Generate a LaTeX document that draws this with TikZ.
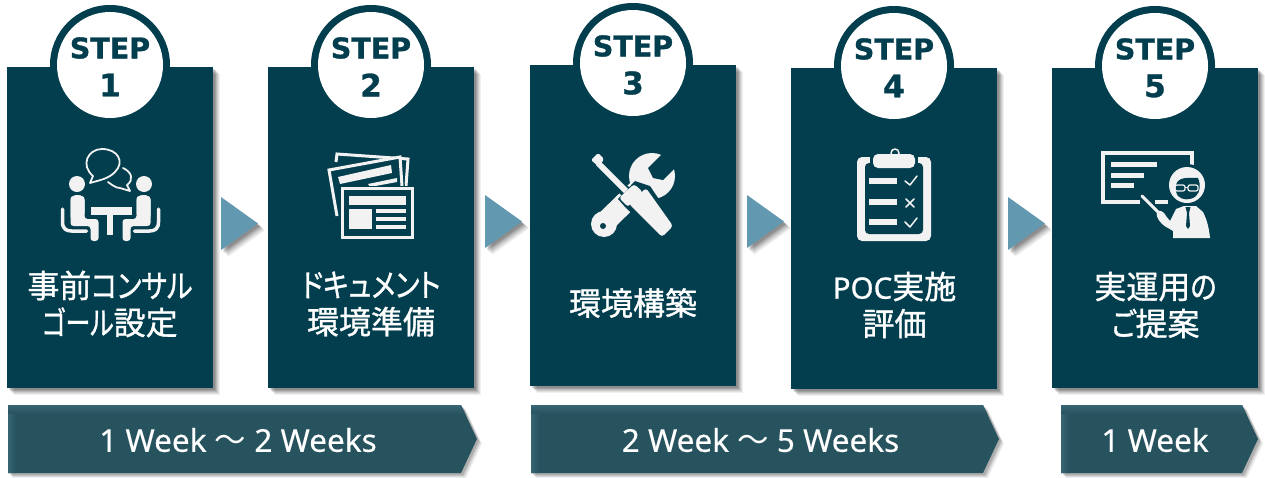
\documentclass[tikz,border=0pt]{standalone}
\usepackage{fontspec}
\setmainfont{Noto Sans}[FakeBold=0.35]
\newfontfamily\jpfont[FakeBold=1]{Noto Sans CJK JP}
\newfontfamily\kanafont[RawFeature={+palt},FakeBold=1,FakeStretch=0.85]{Noto Sans CJK JP}
\newfontfamily\kanatight[RawFeature={+palt},FakeBold=1,FakeStretch=0.78]{Noto Sans CJK JP}
\newfontfamily\latinbold[FakeBold=0.8]{Noto Sans}
\newfontfamily\wavefont{Noto Sans CJK JP}
\newfontfamily\stepfont[FakeBold=1]{DejaVu Sans Bold}
\usetikzlibrary{calc}
\definecolor{cardblue}{HTML}{023E4E}
\definecolor{arrowblue}{HTML}{6399B0}
\definecolor{barblue}{HTML}{27535F}
\definecolor{barlight}{HTML}{376571}
\definecolor{iconwhite}{HTML}{F2F2F2}
\tikzset{
  x=1pt,y=-1pt,
  cardfill/.style={fill=cardblue},
  ringfill/.style={fill=cardblue},
  holefill/.style={fill=white},
  triangleshape/.style={fill=arrowblue},
  stepword/.style={font=\stepfont\fontsize{28.5}{29}\selectfont,text=cardblue,inner sep=0pt},
  cardtext/.style={font=\jpfont\fontsize{32}{37}\selectfont,text=white,align=center,inner sep=0pt},
  bartext/.style={font=\fontsize{31.5}{32}\selectfont,text=white,inner sep=0pt},
  ic/.style={fill=iconwhite,draw=none},
  il/.style={draw=iconwhite,line cap=round,line join=round},
  ild/.style={draw=iconwhite,line cap=butt,line join=miter},
}
\newcommand{\softshadow}[1]{%
  \foreach \d/\op in {7/.06,6/.07,5/.08,4/.10,3/.12,2/.12}{%
    \begin{scope}[shift={(\d,\d)}]
      \fill[black,opacity=\op] #1;
    \end{scope}}%
}
\newcommand{\stepcard}[7]{% name, left, top, right, bottom, circle x, circle y
  \softshadow{(#2,#3) rectangle (#4,#5)}
  \fill[cardfill] (#2,#3) rectangle (#4,#5);
  \fill[ringfill] (#6,#7) circle[radius=60];
  \fill[holefill] (#6,#7) circle[radius=53];
  \node[stepword] (word#1) at (#6,{#7-17}) {STEP};
  \node[stepword,font=\stepfont\fontsize{31}{31}\selectfont] (num#1) at (#6,{#7+20}) {#1};
}
\newcommand{\steptri}[4]{% name, left, right, top
  \softshadow{(#2,#4) -- (#3,{#4+26.5}) -- (#2,{#4+53}) -- cycle}
  \fill[triangleshape] (#2,#4) -- (#3,{#4+26.5}) -- (#2,{#4+53}) -- cycle;
}
\newcommand{\stepbar}[4]{% name, left, right, text
  \begin{scope}
    \foreach \d/\op in {5/.06,4/.08,3/.10,2/.12}{%
      \fill[black,opacity=\op,shift={(\d,\d)}] (#2,405) -- ({#3-16},405) -- (#3,439) -- ({#3-16},473) -- (#2,473) -- cycle;}
    \fill[barblue] (#2,405) -- ({#3-16},405) -- (#3,439) -- ({#3-16},473) -- (#2,473) -- cycle;
    \clip (#2,405) -- ({#3-16},405) -- (#3,439) -- ({#3-16},473) -- (#2,473) -- cycle;
    \shade[top color=barlight,bottom color=barblue] (#2,405) rectangle (#3,414);
    \shade[left color=barlight,right color=barblue] (#2,414) rectangle ({#2+8},473);
  \end{scope}
  \node[bartext] (bar#1) at ({(#2+#3)/2-4.5},440) {#4};
}
\begin{document}
\begin{tikzpicture}
\useasboundingbox (0,0) rectangle (1265,477);
\fill[white] (0,0) rectangle (1265,477);

\stepcard{1}{7}{67}{213}{388}{110}{65}
\stepcard{2}{268}{67}{474}{388}{371}{65}
\stepcard{3}{530}{65}{736}{386}{633}{63}
\stepcard{4}{791}{68}{997}{389}{894}{66}
\stepcard{5}{1052}{68}{1258}{388}{1155}{66}

\steptri{a}{221}{258}{197}
\steptri{b}{485}{522}{195}
\steptri{c}{747}{784}{195}
\steptri{d}{1008}{1045}{197}

\stepbar{a}{8}{477}{1 Week {\wavefont 〜} 2 Weeks}
\stepbar{b}{531}{999}{2 Week {\wavefont 〜} 5 Weeks}
\stepbar{c}{1061}{1258}{1 Week}

\node[cardtext] (text1) at (110,304) {事前{\kanafont コンサル}\\{\kanatight ゴール}設定};
\node[cardtext] (text2) at (371,304) {{\kanafont ドキュメント}\\環境準備};
\node[cardtext] (text3) at (633,303) {環境構築};
\node[cardtext] (text4) at (894.5,305) {{\latinbold\fontsize{29.5}{37}\selectfont POC}実施\\評価};
\node[cardtext] (text5) at (1155.5,305) {実運用{\kanafont の}\\{\kanafont ご}提案};

% --- icon 1: meeting
\draw[il,line width=1.8] (90,183) -- (93,176) .. controls (80,165) and (88,149) .. (102,149)
   .. controls (118,149) and (125,162) .. (115,172) .. controls (108,179) and (100,180) .. (90,183) -- cycle;
\draw[il,line width=1.8] (123,168) .. controls (132,172) and (134,180) .. (127,185) -- (130,191) -- (120,188) .. controls (116,188) and (112,185) .. (108,182);
\fill[ic] (77,184) circle[radius=8];
\fill[ic] (144,184) circle[radius=8];
\fill[ic] (91,207) rectangle (132,215);
\fill[ic] (107,215) rectangle (113,235);
\foreach \s/\c in {1/110.5,-1/110.5}{
  \begin{scope}[shift={(\c,0)},xscale=\s]
    \fill[ic,rounded corners=3] (-40,226) -- (-40,196) -- (-26,196) -- (-26,219) -- (-12,219) -- (-12,241) -- (-20,241) -- (-20,226) -- cycle;
    \fill[ic,rounded corners=6] (-40,195) -- (-26,195) -- (-26,219) -- (-40,222) -- cycle;
    \draw[il,line width=3.5] (-48,209) -- (-48,222) .. controls (-48,229) and (-44,231) .. (-39,231) -- (-24,231);
  \end{scope}
}

% --- icon 2: documents
\draw[ild,line width=3] (336,162) -- (337,154) -- (408,159) -- (406,186);
\fill[cardblue] (329,170) -- (400,156) -- (405,187) -- (337,218) -- cycle;
\draw[ild,line width=3] (337,216) -- (329,170) -- (400,157) -- (402,186);
\fill[ic] (338,177) -- (391,165) -- (392,173) -- (340,184) -- cycle;
\fill[ic] (368,184) -- (397,178) -- (397,182) -- (370,187) -- cycle;
\fill[cardblue] (340,186) rectangle (415,239);
\draw[ild,line width=3] (342.5,188.5) rectangle (412.5,237);
\fill[ic] (349,196) rectangle (406,205);
\fill[ic] (349,209) rectangle (372,229);
\fill[ic] (376,209) rectangle (406,213);
\fill[ic] (376,217) rectangle (406,221);
\fill[ic] (376,225) rectangle (406,229);

% --- icon 3: tools
\draw[iconwhite,line width=21] (603,224) -- (642,186);
\fill[ic] (604,224) circle[radius=13];
\fill[ic] (652,176) circle[radius=23];
\fill[cardblue] (662,154) -- (648,168) -- (653,178) -- (663,180) -- (675,168) -- (695,150) -- (672,138) -- cycle;
\fill[cardblue] (603,226) circle[radius=3];
\draw[cardblue,line width=11,line join=round] (592,158) -- (600,166) -- (627,193);
\fill[cardblue] (626,208) -- (618,199) -- (635,181) -- (650,186) -- (677,226) -- (662,241) -- cycle;
\draw[iconwhite,line width=6] (598,163) -- (626,191);
\fill[ic,rounded corners=1.5] (591,160) -- (598,153) -- (604,159) -- (599,167) -- cycle;
\fill[ic,rounded corners=3] (629,204) -- (646,188) -- (673,226) -- (662,237) -- cycle;
\fill[ic,rounded corners=3] (619,198) -- (634,184) -- (643,192) -- (628,207) -- cycle;

% --- icon 4: clipboard
\fill[ic,rounded corners=5] (857,157) rectangle (931,241);
\fill[cardblue,rounded corners=4] (865,163) rectangle (923,234);
\draw[il,line width=1.5] (895,153) circle[radius=4];
\fill[cardblue] (870,156) rectangle (918,171);
\fill[ic,rounded corners=5] (873,154) rectangle (915,168);
\fill[ic] (869,178) rectangle (897,184);
\fill[ic] (869,199) rectangle (897,205);
\fill[ic] (869,219) rectangle (897,225);
\draw[il,line width=1.5] (905,181) -- (910,185) -- (917,176);
\draw[il,line width=1.5] (906,199) -- (914,207) (914,199) -- (906,207);
\draw[il,line width=1.5] (905,222) -- (910,227) -- (917,218);

% --- icon 5: presenter
\fill[ic] (1101,151) rectangle (1194,155);
\fill[ic] (1190,155) rectangle (1194,165);
\fill[ic] (1101,151) rectangle (1105,204);
\fill[ic] (1101,200) rectangle (1140,204);
\fill[ic] (1155,200) rectangle (1168,204);
\fill[ic] (1111,162) rectangle (1157,167);
\fill[ic] (1111,173) rectangle (1144,178);
\fill[ic] (1111,183) rectangle (1134,188);
\draw[cardblue,line width=7] (1142,195) -- (1160,214);
\draw[il,line width=3] (1142,196) -- (1158,212);
\fill[cardblue] (1187,185) circle[radius=21];
\fill[ic] (1187,185) circle[radius=18];
\fill[cardblue] (1176,185) .. controls (1178,176) and (1190,178) .. (1198,178) .. controls (1201,185) and (1200,192) .. (1196,196) .. controls (1190,201) and (1182,200) .. (1178,196) .. controls (1176,193) and (1175,189) .. (1176,185) -- cycle;
\draw[iconwhite,line width=1.2,rounded corners=2] (1175,185) rectangle (1185,191);
\draw[iconwhite,line width=1.2,rounded corners=2] (1188,185) rectangle (1198,191);
\draw[iconwhite,line width=1] (1185,187) -- (1188,187);
\fill[ic] (1157,212) .. controls (1160,209) and (1164,212) .. (1166,216) -- (1170,221) -- (1176,209) -- (1184,206) -- (1196,206) -- (1203,212) .. controls (1207,220) and (1209,228) .. (1210,238) -- (1173,238) -- (1173,231) -- (1168,228) .. controls (1163,226) and (1155,218) .. (1157,212) -- cycle;
\fill[cardblue] (1185.5,207) -- (1187,213) -- (1186,226) -- (1188,229) -- (1190,226) -- (1189,213) -- (1190.5,207) -- cycle;
\end{tikzpicture}
\end{document}
